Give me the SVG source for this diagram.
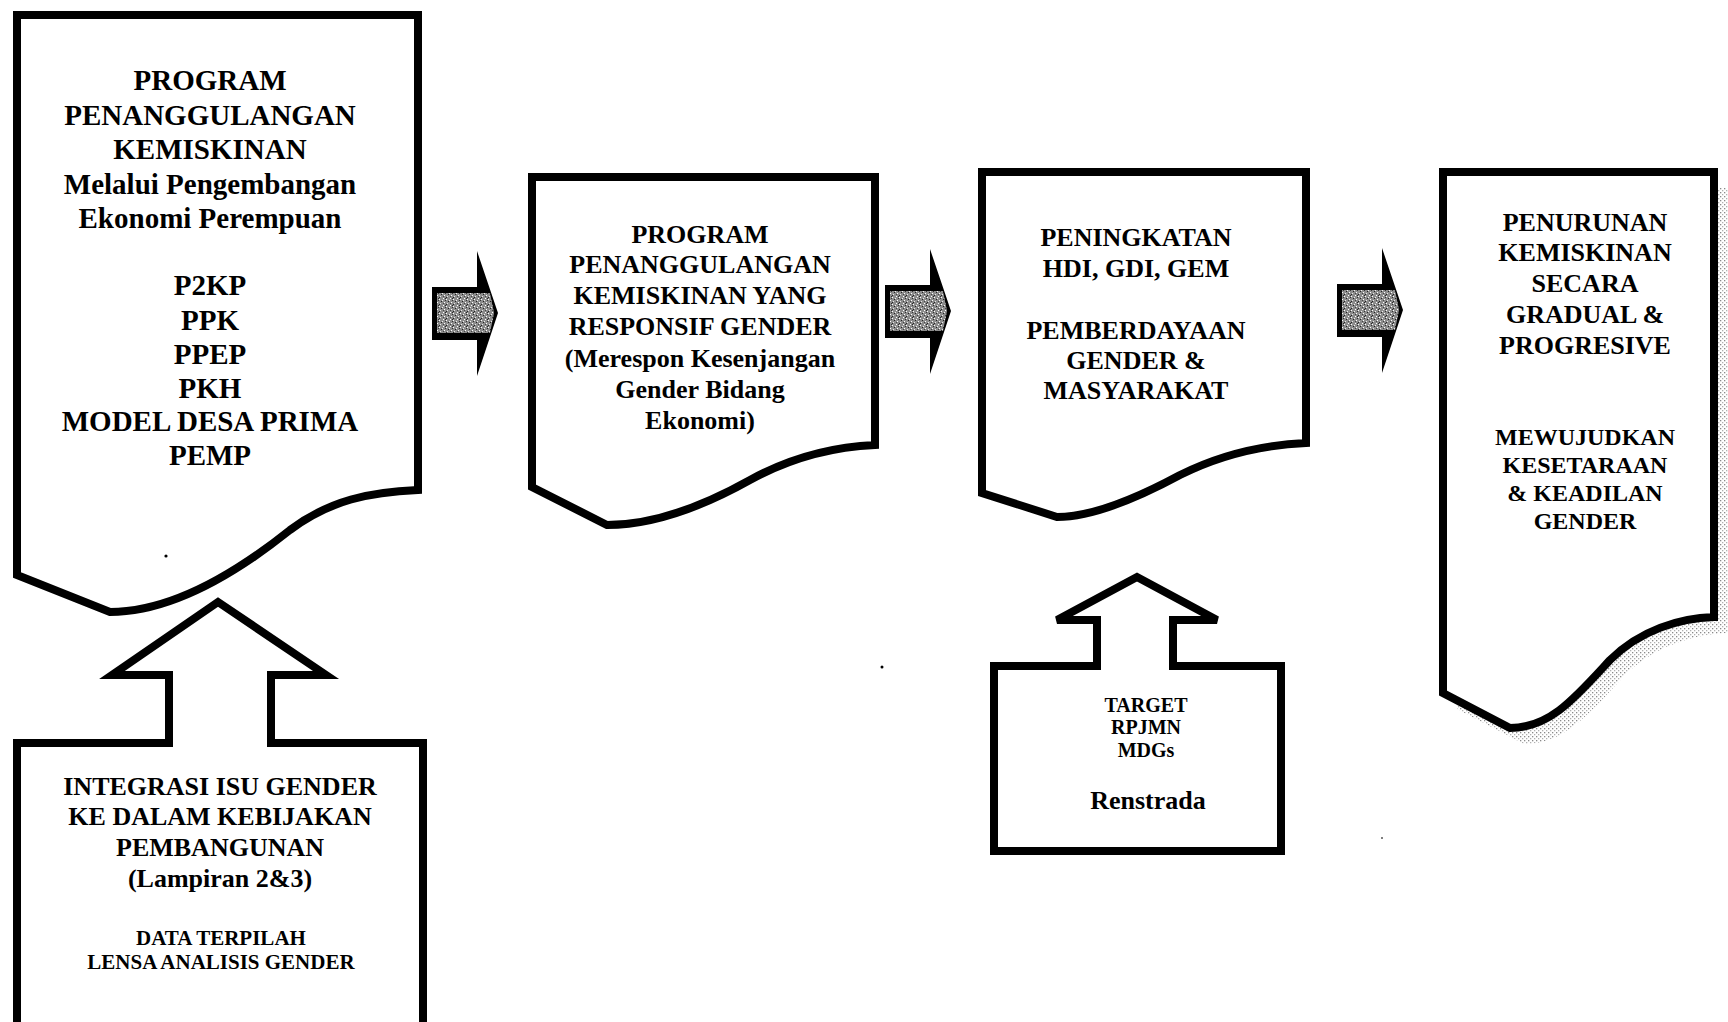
<svg xmlns="http://www.w3.org/2000/svg" width="1728" height="1022" viewBox="0 0 1728 1022">
  <style>
    .doc { fill: #ffffff; stroke: #000000; stroke-width: 8; stroke-linejoin: miter; }
    .t { font-family: "Liberation Serif", "Times New Roman", serif; font-weight: bold; fill: #000000; text-anchor: middle; }
    .f29 { font-size: 29px; }
    .f26 { font-size: 26px; }
    .f24 { font-size: 24px; }
    .f21 { font-size: 21px; }
    .f20 { font-size: 20px; }
  </style>
  <defs>
    <!-- speckled grey fill of the block arrows -->
    <pattern id="grain" width="7" height="7" patternUnits="userSpaceOnUse">
      <rect width="7" height="7" fill="#8c8c8c"/>
      <rect x="0" y="0" width="1" height="1" fill="#ffffff"/>
      <rect x="3" y="1" width="1" height="1" fill="#f0f0f0"/>
      <rect x="5" y="3" width="1" height="1" fill="#ffffff"/>
      <rect x="1" y="4" width="1" height="1" fill="#e8e8e8"/>
      <rect x="4" y="6" width="1" height="1" fill="#ffffff"/>
      <rect x="2" y="2" width="1" height="1" fill="#222222"/>
      <rect x="6" y="1" width="1" height="1" fill="#333333"/>
      <rect x="0" y="5" width="1" height="1" fill="#222222"/>
      <rect x="4" y="4" width="1" height="1" fill="#444444"/>
      <rect x="6" y="6" width="1" height="1" fill="#2a2a2a"/>
    </pattern>
    <!-- halftone dots of the drop shadow -->
    <pattern id="halftone" width="4" height="4" patternUnits="userSpaceOnUse">
      <rect width="4" height="4" fill="#ffffff"/>
      <rect x="0" y="0" width="1.3" height="1.3" fill="#8a8a8a"/>
      <rect x="2" y="2" width="1.3" height="1.3" fill="#b0b0b0"/>
    </pattern>
    <!-- block arrow pointing right, origin at the left end of its centre line -->
    <g id="blockArrow">
      <polygon points="0,-26 45,-26 45,-62 66,0 45,63 45,27 0,27" fill="#000000"/>
      <polygon points="5,-20 58,-20 62,0 58,20 5,20" fill="url(#grain)"/>
    </g>
  </defs>

  <!-- main flow: document shapes -->
  <g id="node-program-kemiskinan">
    <path class="doc" d="M17,15 L418,15 L418,490 C370,492 330,500 290,530 C250,562 180,612 110,612 L17,575 Z"/>
    <text class="t f29" x="210" y="90">PROGRAM</text>
    <text class="t f29" x="210" y="125">PENANGGULANGAN</text>
    <text class="t f29" x="210" y="159">KEMISKINAN</text>
    <text class="t f29" x="210" y="194">Melalui Pengembangan</text>
    <text class="t f29" x="210" y="228">Ekonomi Perempuan</text>
    <text class="t f29" x="210" y="295">P2KP</text>
    <text class="t f29" x="210" y="330">PPK</text>
    <text class="t f29" x="210" y="364">PPEP</text>
    <text class="t f29" x="210" y="398">PKH</text>
    <text class="t f29" x="210" y="431">MODEL DESA PRIMA</text>
    <text class="t f29" x="210" y="465">PEMP</text>
    <circle cx="166" cy="556" r="1.6" fill="#000000"/>
  </g>

  <g id="node-program-responsif">
    <path class="doc" d="M532,177 L875,177 L875,445 C830,447 790,458 750,480 C700,508 650,525 607,525 L532,487 Z"/>
    <text class="t f26" x="700" y="243">PROGRAM</text>
    <text class="t f26" x="700" y="273">PENANGGULANGAN</text>
    <text class="t f26" x="700" y="304">KEMISKINAN YANG</text>
    <text class="t f26" x="700" y="335">RESPONSIF GENDER</text>
    <text class="t f26" x="700" y="367">(Merespon Kesenjangan</text>
    <text class="t f26" x="700" y="398">Gender Bidang</text>
    <text class="t f26" x="700" y="429">Ekonomi)</text>
  </g>

  <g id="node-peningkatan">
    <path class="doc" d="M982,172 L1306,172 L1306,443 C1260,445 1220,455 1180,475 C1130,502 1090,517 1057,517 L982,493 Z"/>
    <text class="t f26" x="1136" y="246">PENINGKATAN</text>
    <text class="t f26" x="1136" y="277">HDI, GDI, GEM</text>
    <text class="t f26" x="1136" y="339">PEMBERDAYAAN</text>
    <text class="t f26" x="1136" y="369">GENDER &amp;</text>
    <text class="t f26" x="1136" y="399">MASYARAKAT</text>
  </g>

  <g id="node-penurunan">
    <!-- drop shadow -->
    <path d="M1457,188 L1728,188 L1728,633 C1694,634 1654,646 1624,676 C1589,714 1564,744 1524,744 L1457,709 Z" fill="url(#halftone)"/>
    <path class="doc" d="M1443,172 L1714,172 L1714,617 C1680,618 1640,630 1610,660 C1575,698 1550,728 1510,728 L1443,693 Z"/>
    <text class="t f26" x="1585" y="231">PENURUNAN</text>
    <text class="t f26" x="1585" y="261">KEMISKINAN</text>
    <text class="t f26" x="1585" y="292">SECARA</text>
    <text class="t f26" x="1585" y="323">GRADUAL &amp;</text>
    <text class="t f26" x="1585" y="354">PROGRESIVE</text>
    <text class="t f24" x="1585" y="445">MEWUJUDKAN</text>
    <text class="t f24" x="1585" y="473">KESETARAAN</text>
    <text class="t f24" x="1585" y="501">&amp; KEADILAN</text>
    <text class="t f24" x="1585" y="529">GENDER</text>
  </g>

  <!-- inputs: boxes with an upward arrow on top -->
  <g id="node-integrasi">
    <path class="doc" d="M17,1040 L17,743 L169,743 L169,675 L112,675 L218,602 L326,675 L271,675 L271,743 L423,743 L423,1040"/>
    <text class="t f26" x="220" y="795">INTEGRASI ISU GENDER</text>
    <text class="t f26" x="220" y="825">KE DALAM KEBIJAKAN</text>
    <text class="t f26" x="220" y="856">PEMBANGUNAN</text>
    <text class="t f26" x="220" y="887">(Lampiran 2&amp;3)</text>
    <text class="t f21" x="221" y="945">DATA TERPILAH</text>
    <text class="t f21" x="221" y="969">LENSA ANALISIS GENDER</text>
  </g>

  <g id="node-target">
    <path class="doc" d="M994,851 L994,666 L1097,666 L1097,620 L1057,620 L1137,577 L1217,620 L1173,620 L1173,666 L1281,666 L1281,851 Z"/>
    <text class="t f20" x="1146" y="712">TARGET</text>
    <text class="t f20" x="1146" y="734">RPJMN</text>
    <text class="t f20" x="1146" y="757">MDGs</text>
    <text class="t f26" x="1148" y="809">Renstrada</text>
  </g>

  <!-- connectors between the stages -->
  <g id="connectors">
    <use href="#blockArrow" transform="translate(432,313)"/>
    <use href="#blockArrow" transform="translate(885,311)"/>
    <use href="#blockArrow" transform="translate(1337,310)"/>
  </g>

  <!-- stray marks -->
  <circle cx="882" cy="667" r="1.5" fill="#000000"/>
  <circle cx="1382" cy="838" r="1" fill="#555555"/>
</svg>
